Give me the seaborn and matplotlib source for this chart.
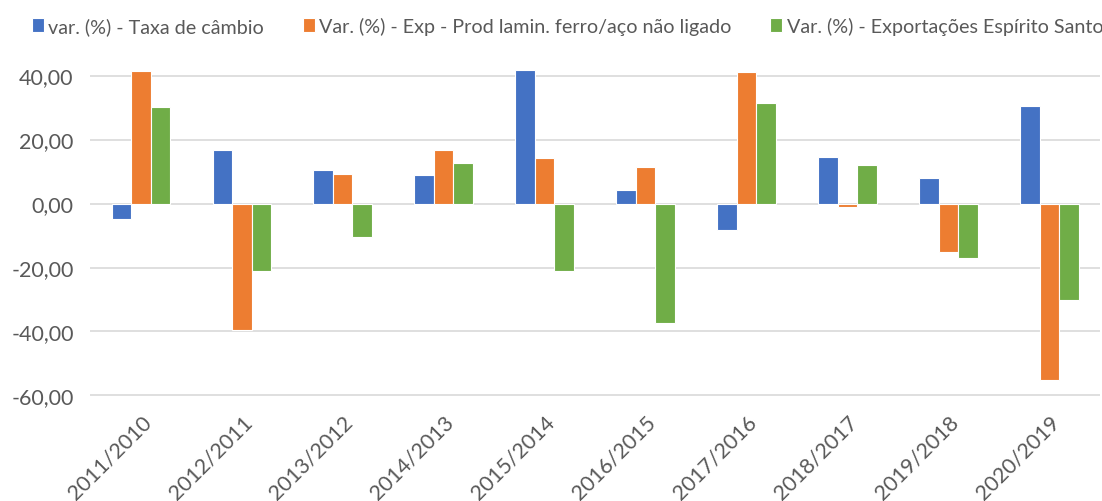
import numpy as np
import pandas as pd
import matplotlib

matplotlib.use("Agg")
import matplotlib.pyplot as plt
import seaborn as sns

# ===== DATA =====
periods = [
    "2011/2010", "2012/2011", "2013/2012", "2014/2013", "2015/2014",
    "2016/2015", "2017/2016", "2018/2017", "2019/2018", "2020/2019",
]
taxa_cambio = [-4.9, 16.8, 10.5, 8.9, 41.7, 4.3, -8.4, 14.4, 7.9, 30.6]
exp_prod_lamin = [41.3, -39.4, 9.2, 16.8, 14.1, 11.5, 41.1, -1.1, -15.1, -55.1]
exp_espirito_santo = [30.2, -21.2, -10.6, 12.6, -21.2, -37.3, 31.4, 12.1, -17.1, -30.1]

series_names = [
    "var. (%) - Taxa de câmbio",
    "Var. (%) - Exp - Prod lamin. ferro/aço não ligado",
    "Var. (%) - Exportações Espírito Santo",
]
series_colors = ["#4472C4", "#ED7D31", "#70AD47"]

# long-form table for seaborn
df = pd.DataFrame({
    "periodo": periods * 3,
    "valor": taxa_cambio + exp_prod_lamin + exp_espirito_santo,
    "serie": [s for s in series_names for _ in periods],
})

# ===== PLOT =====
sns.set_style("white")
plt.rcParams["font.family"] = ["Lato", "DejaVu Sans"]
text_gray = "#595959"

fig = plt.figure(figsize=(11.02, 5.02), dpi=100)
ax = fig.add_axes([0.082, 0.207, 0.916, 0.666])

sns.barplot(
    data=df, x="periodo", y="valor", hue="serie",
    order=periods, hue_order=series_names,
    palette=series_colors, width=0.58, gap=0,
    edgecolor="white", linewidth=0.8, saturation=1,
    errorbar=None, ax=ax, zorder=3,
)

ax.set_ylim(-60.5, 44)
ax.set_yticks([-60, -40, -20, 0, 20, 40])
ax.set_yticklabels([f"{v:.2f}".replace(".", ",") for v in [-60, -40, -20, 0, 20, 40]])
ax.yaxis.grid(True, color="#D9D9D9", linewidth=1.2, zorder=0)
ax.set_axisbelow(True)
for sp in ax.spines.values():
    sp.set_visible(False)

ax.tick_params(axis="both", length=0, labelsize=15.5, labelcolor=text_gray)
ax.tick_params(axis="y", pad=12)
ax.tick_params(axis="x", pad=10)
plt.setp(ax.get_xticklabels(), rotation=45, ha="right", rotation_mode="anchor")
ax.set_xlabel("")
ax.set_ylabel("")

handles, labels = ax.get_legend_handles_labels()
ax.legend_.remove()
fig.legend(
    handles, labels, loc="upper center", bbox_to_anchor=(0.515, 1.0), ncol=3,
    frameon=False, fontsize=14.2, labelcolor=text_gray,
    handlelength=0.62, handleheight=0.7, handletextpad=0.22, columnspacing=1.95,
)

fig.savefig("out.png", dpi=100)
